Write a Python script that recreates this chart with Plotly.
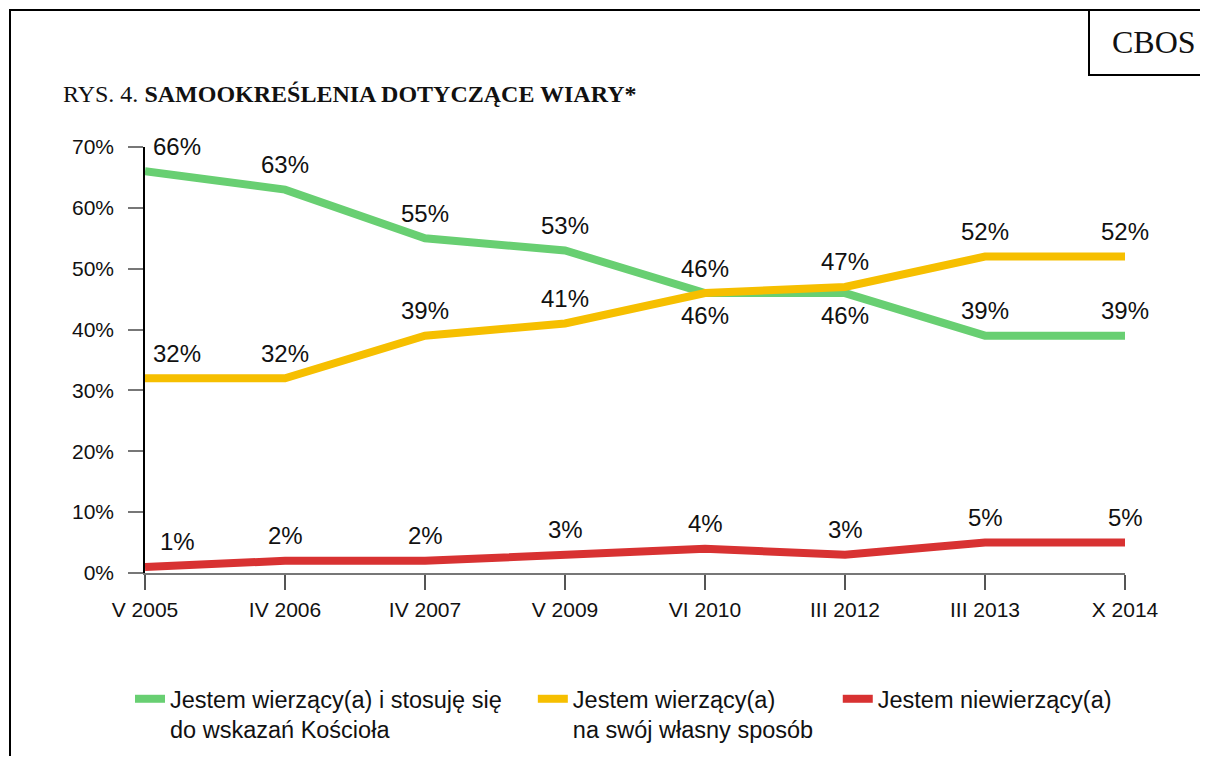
import plotly.graph_objects as go

# dane z wykresu CBOS
categories = ["V 2005", "IV 2006", "IV 2007", "V 2009", "VI 2010", "III 2012", "III 2013", "X 2014"]
church = [66, 63, 55, 53, 46, 46, 39, 39]
own_way = [32, 32, 39, 41, 46, 47, 52, 52]
non_believer = [1, 2, 2, 3, 4, 3, 5, 5]

NB = "\u00a0"
names = ["Jestem wierzący(a) i stosuję się" + NB * 4 + "<br>do wskazań Kościoła",
         "Jestem wierzący(a)<br>na swój własny sposób" + NB * 3,
         "Jestem niewierzący(a)"]
colors = ["#68CF72", "#F6BF00", "#D83232"]

# strona ma margines 8px, wiec figura jest mniejsza i przesunieta
OFF = 8
W, H = 1192, 748
L, T = 145 - OFF, 147 - OFF
pw, ph = 980, 426
R, B = W - L - pw, H - T - ph


def px_x(x):
    return (x - OFF - L) / pw


def px_y(y):
    return (T + ph - (y - OFF)) / ph


FONT = "Liberation Sans, Arial, sans-serif"
SERIF = "Liberation Serif, Times New Roman, serif"

fig = go.Figure()
for vals, name, col in zip([church, own_way, non_believer], names, colors):
    fig.add_trace(go.Scatter(x=categories, y=vals, mode="lines", name=name,
                             line=dict(color=col, width=8), cliponaxis=False))

# etykiety wartosci
annotations = []
for i, cat in enumerate(categories):
    close = abs(church[i] - own_way[i]) <= 2
    for s, vals in enumerate([church, own_way, non_believer]):
        below = close and s == 0
        xs = 32 if i == 0 else 0
        annotations.append(dict(x=cat, y=vals[i], text=f"{vals[i]}%", showarrow=False,
                                xshift=xs, yshift=-22 if below else 25,
                                font=dict(family=FONT, size=24, color="#111")))

annotations.append(dict(xref="paper", yref="paper", x=px_x(61), y=px_y(94),
                        xanchor="left", yanchor="middle", showarrow=False,
                        text="RYS. 4. <b>SAMOOKREŚLENIA DOTYCZĄCE WIARY*</b>",
                        font=dict(family=SERIF, size=24, color="#111")))
annotations.append(dict(xref="paper", yref="paper", x=px_x(1154), y=px_y(42),
                        xanchor="center", yanchor="middle", showarrow=False,
                        text="CBOS", font=dict(family=SERIF, size=32, color="#111")))

shapes = [
    dict(type="rect", xref="paper", yref="paper", x0=px_x(10), x1=px_x(1230),
         y0=px_y(790), y1=px_y(10), line=dict(color="black", width=2)),
    dict(type="rect", xref="paper", yref="paper", x0=px_x(1089), x1=px_x(1230),
         y0=px_y(75), y1=px_y(10), line=dict(color="black", width=2)),
]

fig.update_layout(
    width=W, height=H,
    margin=dict(l=L, r=R, t=T, b=B, autoexpand=False),
    plot_bgcolor="white", paper_bgcolor="white",
    font=dict(family=FONT, size=21, color="#111"),
    showlegend=True,
    legend=dict(orientation="h", x=px_x(130), y=px_y(677), xanchor="left", yanchor="top",
                valign="top", font=dict(family=FONT, size=23.5, color="#111"),
                itemwidth=30, tracegroupgap=0),
    annotations=annotations,
    shapes=shapes,
)
fig.update_xaxes(type="category", range=[0, 7], showgrid=False, zeroline=False,
                 showline=True, linecolor="#777", linewidth=2,
                 ticks="outside", ticklen=15, tickcolor="#555", tickwidth=1.5,
                 ticklabelstandoff=2, tickfont=dict(size=21))
fig.update_yaxes(range=[0, 70], dtick=10, ticksuffix="%", showgrid=False, zeroline=False,
                 showline=True, linecolor="black", linewidth=1.5,
                 ticks="outside", ticklen=15, tickcolor="#777", tickwidth=2,
                 ticklabelstandoff=10, tickfont=dict(size=21))

fig.write_html("out.html")
